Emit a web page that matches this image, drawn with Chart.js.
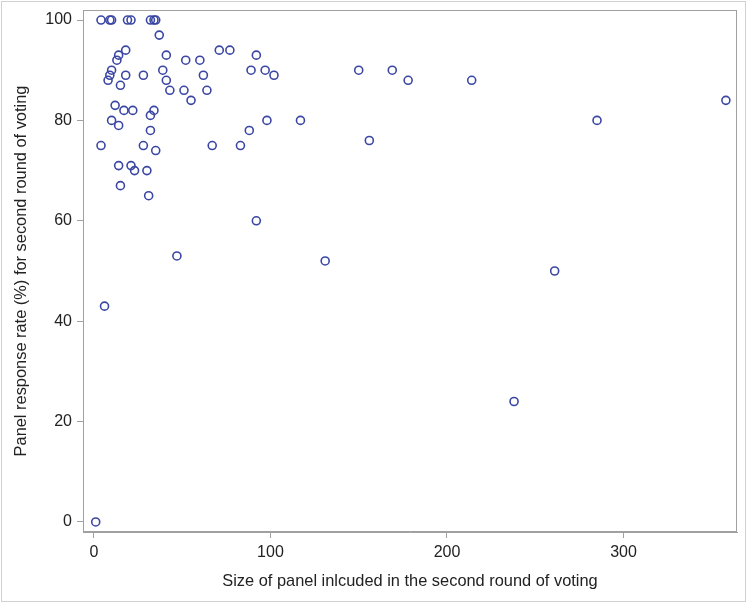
<!DOCTYPE html>
<html>
<head>
<meta charset="utf-8">
<script src="https://cdn.jsdelivr.net/npm/chart.js@4.4.1/dist/chart.umd.min.js"></script>
<style>
  body { margin: 0; background: #fff; }
  #wrap { width: 747px; height: 603px; }
</style>
</head>
<body>
<div id="wrap"><canvas id="chart" width="747" height="603"></canvas></div>
<script>
// size of panel (x) and response rate % (y)
const panelSize = [4, 9, 10, 19, 21, 32, 34, 35, 37,
  18, 14, 13, 41, 52, 60, 71, 77, 92,
  10, 9, 8, 18, 28, 39, 41, 43, 51, 55, 62, 64, 89, 97, 102,
  15, 12, 17, 22, 34, 32, 10, 14, 32, 98, 88,
  4, 28, 35, 67, 83, 14, 21, 23, 30, 15, 31,
  92, 47, 150, 169, 178, 214, 117, 156,
  358, 285, 261, 238, 131, 6, 1];
const responseRate = [100, 100, 100, 100, 100, 100, 100, 100, 97,
  94, 93, 92, 93, 92, 92, 94, 94, 93,
  90, 89, 88, 89, 89, 90, 88, 86, 86, 84, 89, 86, 90, 90, 89,
  87, 83, 82, 82, 82, 81, 80, 79, 78, 80, 78,
  75, 75, 74, 75, 75, 71, 71, 70, 70, 67, 65,
  60, 53, 90, 90, 88, 88, 80, 76,
  84, 80, 50, 24, 52, 43, 0];
const xTicks = [0, 100, 200, 300];
const yTicks = [0, 20, 40, 60, 80, 100];

const points = panelSize.map((x, i) => ({ x: x, y: responseRate[i] }));
const font = { family: "'Liberation Sans', Arial, sans-serif", size: 16 };
const titleFont = { family: "'Liberation Sans', Arial, sans-serif", size: 16.4 };
const axisGray = "#a0a0a0";

const frame = {
  id: "frame",
  afterDraw(chart) {
    const c = chart.ctx, a = chart.chartArea;
    c.save();
    c.strokeStyle = axisGray;
    c.lineWidth = 1;
    c.strokeRect(a.left + 0.5, a.top + 0.5, a.right - a.left - 1, a.bottom - a.top - 1);
    c.strokeStyle = "#d0d0d0";
    c.strokeRect(1.5, 1.5, 744, 600);
    c.restore();
  }
};

const ctx = document.getElementById("chart").getContext("2d");
new Chart(ctx, {
  type: "scatter",
  data: {
    datasets: [{
      data: points,
      pointStyle: "circle",
      pointRadius: 4,
      pointBorderWidth: 1.6,
      pointBorderColor: "#3a46a3",
      pointBackgroundColor: "transparent",
    }]
  },
  options: {
    responsive: false,
    animation: false,
    layout: { padding: { top: 0, right: 10, left: 0, bottom: 0 } },
    plugins: { legend: { display: false }, tooltip: { enabled: false } },
    scales: {
      x: {
        type: "linear",
        min: -6.2,
        max: 364.3,
        afterBuildTicks: (s) => { s.ticks = xTicks.map(v => ({ value: v })); },
        afterFit: (s) => { s.height = 71; },
        grid: { drawOnChartArea: false, tickLength: 6, color: axisGray, tickColor: axisGray },
        border: { color: axisGray },
        ticks: { color: "#222", font: font, padding: 5, maxRotation: 0 },
        title: { display: true, text: "Size of panel inlcuded in the second round of voting", color: "#222", font: titleFont, padding: { top: 0, bottom: 12 } }
      },
      y: {
        type: "linear",
        min: -2,
        max: 102,
        afterBuildTicks: (s) => { s.ticks = yTicks.map(v => ({ value: v })); },
        afterFit: (s) => { s.width = 83; s.paddingTop = 10; s.paddingBottom = 0; },
        grid: { drawOnChartArea: false, tickLength: 6, color: axisGray, tickColor: axisGray },
        border: { color: axisGray },
        ticks: { color: "#222", font: font, padding: 5 },
        title: { display: true, text: "Panel response rate (%) for second round of voting", color: "#222", font: titleFont, padding: { top: 12, bottom: 0 } }
      }
    }
  },
  plugins: [frame]
});
</script>
</body>
</html>
